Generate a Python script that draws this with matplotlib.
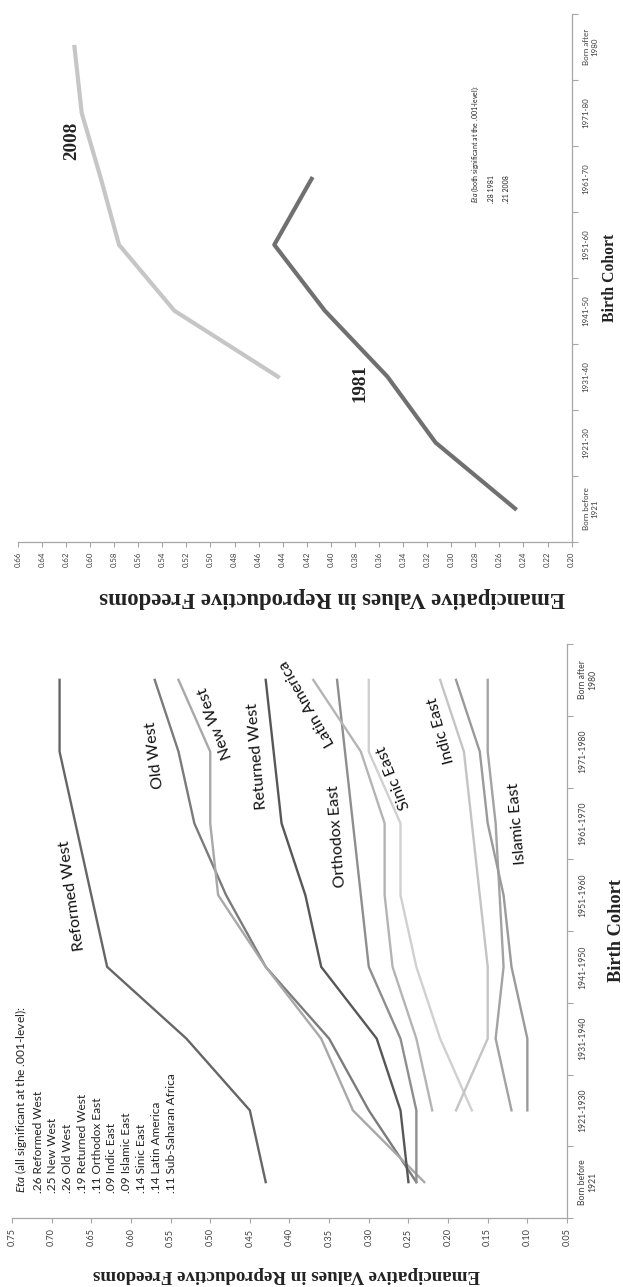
import numpy as np
import matplotlib.pyplot as plt

plt.rcParams['font.family'] = ['Lato', 'DejaVu Sans']
plt.rcParams['mathtext.fontset'] = 'custom'
plt.rcParams['mathtext.it'] = 'Lato:italic'
plt.rcParams['mathtext.rm'] = 'Lato'

nan = np.nan

# birth cohorts (same order in both panels)
cohorts_long = ["Born before\n1921", "1921-1930", "1931-1940", "1941-1950",
                "1951-1960", "1961-1970", "1971-1980", "Born after\n1980"]
cohorts_short = ["Born before\n1921", "1921-30", "1931-40", "1941-50",
                 "1951-60", "1961-70", "1971-80", "Born after\n1980"]

# left chart: cultural zones
reformed_west = [0.43, 0.45, 0.53, 0.63, 0.65, 0.67, 0.69, 0.69]
old_west = [0.24, 0.30, 0.35, 0.43, 0.48, 0.52, 0.54, 0.57]
new_west = [0.23, 0.32, 0.36, 0.43, 0.49, 0.50, 0.50, 0.54]
returned_west = [0.25, 0.26, 0.29, 0.36, 0.38, 0.41, 0.42, 0.43]
orthodox_east = [0.24, 0.24, 0.26, 0.30, 0.31, 0.32, 0.33, 0.34]
latin_america = [nan, 0.22, 0.24, 0.27, 0.28, 0.28, 0.31, 0.37]
sinic_east = [nan, 0.17, 0.21, 0.24, 0.26, 0.26, 0.30, 0.30]
indic_east = [nan, 0.19, 0.15, 0.15, 0.16, 0.17, 0.18, 0.21]
islamic_east = [nan, 0.12, 0.14, 0.13, 0.135, 0.14, 0.15, 0.15]
subsaharan_africa = [nan, 0.10, 0.10, 0.12, 0.13, 0.15, 0.16, 0.19]

# right chart: survey waves
wave_1981 = [0.247, 0.313, 0.353, 0.405, 0.447, 0.416, nan, nan]
wave_2008 = [nan, nan, 0.444, 0.530, 0.576, 0.591, 0.607, 0.613]

eta_zones = ("$\\it{Eta}$ (all significant at the .001-level):\n"
             ".26 Reformed West\n.25 New West\n.26 Old West\n.19 Returned West\n"
             ".11 Orthodox East\n.09 Indic East\n.09 Islamic East\n.14 Sinic East\n"
             ".14 Latin America\n.11 Sub-Saharan Africa")
eta_waves = "$\\it{Eta}$ (both significant at the .001-level):\n.28 1981\n.21 2008"

axis_col = '#a6a6a6'
serif = 'Liberation Serif'


def style_axes(ax, vticks, vlim, labels, tick_fs, coh_fs):
    ax.set_xlim(vlim)
    ax.set_ylim(-0.5, len(labels) - 0.5)
    ax.spines['left'].set_visible(False)
    ax.spines['top'].set_visible(False)
    for s in ['bottom', 'right']:
        ax.spines[s].set_color(axis_col)
        ax.spines[s].set_linewidth(0.9)
    ax.set_xticks(vticks)
    ax.set_xticklabels([f"{v:.2f}" for v in vticks], rotation=90,
                       fontsize=tick_fs, color='#404040')
    ax.tick_params(axis='x', length=3.5, width=0.8, color=axis_col, pad=4)
    ax.yaxis.tick_right()
    ax.set_yticks(np.arange(len(labels) + 1) - 0.5)
    ax.set_yticklabels([])
    ax.set_yticks(np.arange(len(labels)), minor=True)
    ax.set_yticklabels(labels, minor=True, rotation=90, fontsize=coh_fs,
                       va='center', ha='left', color='#404040',
                       multialignment='center')
    ax.tick_params(axis='y', which='major', length=4, width=0.8,
                   color=axis_col, right=True, left=False)
    ax.tick_params(axis='y', which='minor', length=0, pad=8,
                   labelright=True, labelleft=False, right=False, left=False)


fig = plt.figure(figsize=(6.23, 12.87), dpi=100)
W, H = 623.0, 1287.0

# ---------------- left chart (bottom of the page) ----------------
ax1 = fig.add_axes([12 / W, 1 - 1218 / H, 555 / W, 574 / H])
idx = np.arange(len(cohorts_long))

zones = [
    (reformed_west, '#666666', 'Reformed West', 0.674, 4.00, 98),
    (old_west, '#7b7b7b', 'Old West', 0.570, 5.95, 97),
    (new_west, '#a8a8a8', 'New West', 0.493, 6.40, 110),
    (returned_west, '#575757', 'Returned West', 0.440, 5.94, 95),
    (orthodox_east, '#8e8e8e', 'Orthodox East', 0.340, 4.82, 94),
    (latin_america, '#b4b4b4', 'Latin America', 0.377, 6.68, 120),
    (sinic_east, '#d0d0d0', 'Sinic East', 0.268, 5.64, 112),
    (indic_east, '#c4c4c4', 'Indic East', 0.209, 6.30, 105),
    (islamic_east, '#a3a3a3', 'Islamic East', 0.113, 5.00, 95),
    (subsaharan_africa, '#9a9a9a', None, 0, 0, 0),
]
for vals, col, name, lx, ly, rot in zones:
    ax1.plot(vals, idx, color=col, lw=1.7, solid_joinstyle='miter')
    if name:
        ax1.text(lx, ly, name, rotation=rot, fontsize=11.5, color='#111111',
                 ha='center', va='center', rotation_mode='anchor')

style_axes(ax1, np.round(np.arange(0.05, 0.751, 0.05), 2), (0.75, 0.05),
           cohorts_long, 6.6, 6.2)

ax1.text(0.749, -0.15, eta_zones, rotation=90, fontsize=8.6, ha='left',
         va='bottom', multialignment='left', linespacing=1.42,
         color='#222222')
ax1.text(0.494, -0.099, "Emancipative Values in Reproductive Freedoms",
         transform=ax1.transAxes, rotation=180, ha='center', va='center',
         fontsize=13.6, fontweight='bold', family=serif, color='#222222')
ax1.text(1.09, 0.5, "Birth Cohort", transform=ax1.transAxes, rotation=90,
         ha='center', va='center', fontsize=13.2, fontweight='bold',
         family=serif, color='#222222')

# ---------------- right chart (top of the page) ----------------
ax2 = fig.add_axes([17.9 / W, 1 - 541.5 / H, 553.7 / W, 527.5 / H])
ax2.plot(wave_1981, idx, color='#707070', lw=3.0)
ax2.plot(wave_2008, idx, color='#c6c6c6', lw=3.0)
style_axes(ax2, np.round(np.arange(0.20, 0.661, 0.02), 2), (0.66, 0.20),
           cohorts_short, 5.6, 5.8)

ax2.text(0.6154, 5.58, "2008", rotation=90, ha='center', va='center',
         fontsize=13.7, fontweight='bold', family=serif, color='#222222')
ax2.text(0.3758, 1.90, "1981", rotation=90, ha='center', va='center',
         fontsize=13.7, fontweight='bold', family=serif, color='#222222')
ax2.text(0.2844, 4.63, eta_waves, rotation=90, fontsize=5.0, ha='left',
         va='bottom', multialignment='left', linespacing=2.2,
         color='#222222')
ax2.text(0.567, -0.107, "Emancipative Values in Reproductive Freedoms",
         transform=ax2.transAxes, rotation=180, ha='center', va='center',
         fontsize=16.4, fontweight='bold', family=serif, color='#222222')
ax2.text(1.07, 0.5, "Birth Cohort", transform=ax2.transAxes, rotation=90,
         ha='center', va='center', fontsize=11.3, fontweight='bold',
         family=serif, color='#222222')

plt.savefig("out.png", dpi=100)
